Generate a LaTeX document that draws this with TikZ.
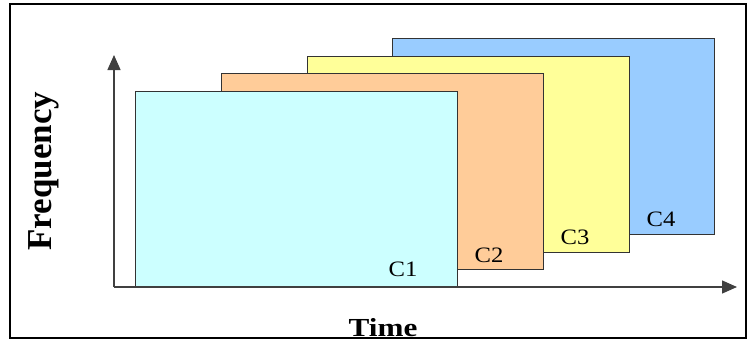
\documentclass[tikz,border=0pt]{standalone}
\usepackage{fontspec}
\setmainfont{Liberation Serif}
\usetikzlibrary{arrows.meta}
\definecolor{cone}{HTML}{CCFFFF}
\definecolor{ctwo}{HTML}{FFCC99}
\definecolor{cthree}{HTML}{FFFF99}
\definecolor{cfour}{HTML}{99CCFF}
\definecolor{edge}{HTML}{333333}
\tikzset{
  chan/.style={draw=edge, line width=1.4pt, rectangle, anchor=north west, inner sep=0pt,
    minimum width=322pt, minimum height=196pt},
  clabel/.style={font=\fontsize{22}{22}\selectfont, inner sep=0pt},
  axis/.style={draw=black!75, line width=1.4pt, -{Triangle[length=15pt,width=13pt]}},
}
\begin{document}
\begin{tikzpicture}[x=1pt,y=-1pt]
\useasboundingbox (0,0) rectangle (748,343);
\fill[white] (0,0) rectangle (748,343);
\draw[line width=2.2pt] (10,4) rectangle (746,338);
\node[chan, fill=cfour] (c4) at (392,38) {};
\node[chan, fill=cthree] (c3) at (307,56) {};
\node[chan, fill=ctwo] (c2) at (221,73) {};
\node[chan, fill=cone] (c1) at (135,91) {};
\coordinate (o) at (114,287);
\coordinate (ytip) at (114,55);
\coordinate (xtip) at (737,287);
\draw[axis] (o) -- (ytip);
\draw[axis] (o) -- (xtip);
\node[clabel] (l1) at (403,269) {\scalebox{1.12}[1]{C1}};
\node[clabel] (l2) at (489,255) {\scalebox{1.12}[1]{C2}};
\node[clabel] (l3) at (575,237) {\scalebox{1.12}[1]{C3}};
\node[clabel] (l4) at (661,219) {\scalebox{1.12}[1]{C4}};
\node[font=\fontsize{26}{26}\selectfont\bfseries, anchor=base, inner sep=0pt] (time) at (383,336) {\scalebox{1.2}[1]{Time}};
\node[font=\fontsize{35}{35}\selectfont\bfseries, rotate=90, anchor=base, inner sep=0pt] (freq) at (52,171) {Frequency};
\end{tikzpicture}
\end{document}
